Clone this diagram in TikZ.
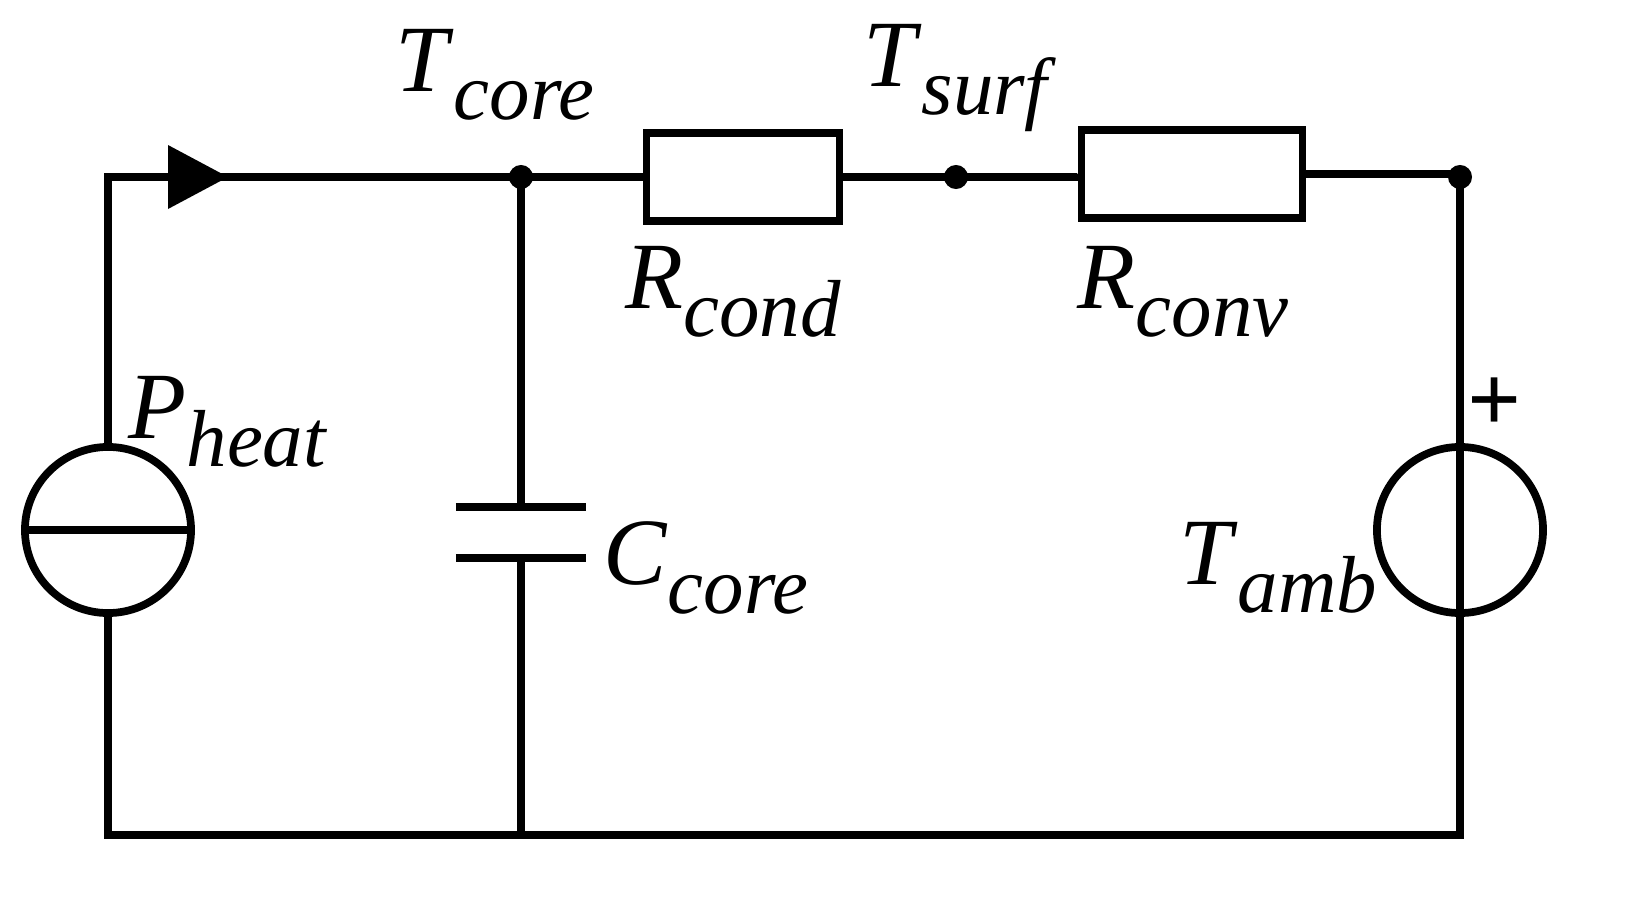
\documentclass[tikz,border=0pt]{standalone}
\usepackage{fontspec}
\setmainfont{Liberation Serif}
\usetikzlibrary{positioning}
\newcommand{\lab}[2]{\textit{#1}\raisebox{-0.3em}{\fontsize{23}{27}\selectfont\textit{#2}}}
\tikzset{
    wire/.style={
        line width=2.2pt
        },
    res/.style={ % resistor box
        rectangle,
        draw=black,
        line width=2.2pt,
        fill=white
        },
    src/.style={ % source circle
        circle,
        draw=black,
        line width=2.2pt,
        minimum size=1.66cm,
        inner sep=0pt
        },
    dot/.style={
        circle,
        fill=black,
        minimum size=0.24cm,
        inner sep=0pt
        },
    txt/.style={
        font=\fontsize{27}{32}\selectfont,
        inner sep=0pt
        }
}
\begin{document}
\begin{tikzpicture}[x=0.01cm,y=-0.01cm]
\useasboundingbox (0,0) rectangle (1629,906);
%%%%% corners and junctions
\coordinate (tl) at (108,177);
\coordinate (bl) at (108,835);
\coordinate (br) at (1460,835);
\coordinate (cb) at (521,835);
\node[dot] (ncore) at (521,177) {};
\node[dot] (nsurf) at (956,177) {};
\node[dot] (namb) at (1460,177) {};

%%%%% resistors
\node[res, minimum width=1.93cm, minimum height=0.88cm] (rcond) at (743,177) {};
\node[res, minimum width=2.21cm, minimum height=0.88cm] (rconv) at (1192,174) {};

%%%%% sources
\node[src] (pheat) at (108,530) {};
\node[src] (tamb) at (1460,530) {};

%%%%% capacitor plates
\coordinate (c1) at (521,507);
\coordinate (c2) at (521,558);

%%%%% wires
\draw[wire] (pheat.north) -- (tl) -- (rcond.west);
\draw[wire] (rcond.east) -- (rconv.west |- rcond.east) -- (rconv.west);
\draw[wire] (rconv.east) -- (rconv.east -| namb) -- (namb.center) -- (tamb.south) -- (br) -- (bl) -- (pheat.south);
\draw[wire] (pheat.west) -- (pheat.east);
\draw[wire] (ncore.center) -- (c1);
\draw[wire] (c2) -- (cb);
\draw[wire] ([xshift=-0.65cm]c1) -- ([xshift=0.65cm]c1);
\draw[wire] ([xshift=-0.65cm]c2) -- ([xshift=0.65cm]c2);

%%%%% arrow on top wire
\fill (168,145) -- (228,177) -- (168,209) -- cycle;

%%%%% labels
\node[txt] (ltcore) at (495,75) {\lab{T}{core}};
\node[txt] (ltsurf) at (960,78) {\lab{T}{surf}};
\node[txt] (lrcond) at (733,292) {\lab{R}{cond}};
\node[txt] (lrconv) at (1183,292) {\lab{R}{conv}};
\node[txt] (lpheat) at (228,422) {\lab{P}{heat}};
\node[txt] (lccore) at (706,568) {\lab{C}{core}};
\node[txt] (ltamb) at (1278,568) {\lab{T}{amb}};
\node[txt] (plus) at (1495,405) {\textbf{+}};
\end{tikzpicture}
\end{document}
